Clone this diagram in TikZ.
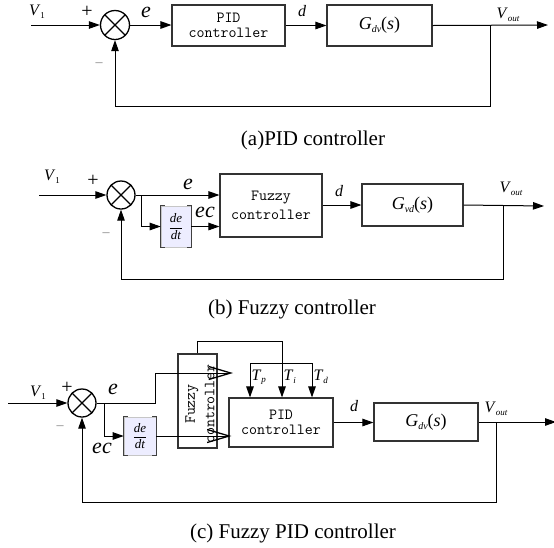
\documentclass[tikz,border=0pt]{standalone}
\usepackage{fontspec}
\setmainfont{Liberation Serif}
\usetikzlibrary{arrows.meta}
\newcommand{\fsz}[1]{\fontsize{#1}{#1}\selectfont}
\newcommand{\vsub}[2]{\textit{#1}\raisebox{-2.5pt}{\fsz{9}#2}}
\newcommand{\gsub}[2]{\textit{#1}\raisebox{-3pt}{\fsz{10}#2}}
\begin{document}
\begin{tikzpicture}[x=1pt,y=-1pt,line width=1pt,
  arr/.style={-{Triangle[length=11pt,width=7.5pt]}},
  chev/.style={-{Straight Barb[length=22pt,width=13pt,line width=1.3pt]}},
  blk/.style={draw=black!80,line width=1.1pt,inner sep=0pt,font=\ttfamily\fsz{15.5},align=center},
  sumj/.style={draw,circle,line width=1.3pt,minimum size=#1,inner sep=0pt,
    path picture={\draw[line width=1.3pt] (path picture bounding box.north west) -- (path picture bounding box.south east)
      (path picture bounding box.south west) -- (path picture bounding box.north east);}},
  ddbox/.style={fill=blue!7,draw=gray!45,line width=0.6pt,inner sep=0pt,font=\fsz{13}},
  brk/.style={draw=black!75,line width=1.3pt},
  lab/.style={inner sep=0pt,font=\fsz{16}},
  plus/.style={inner sep=0pt,font=\fsz{20}},
  big/.style={inner sep=0pt,font=\fsz{22}\itshape},
  captxt/.style={inner sep=0pt,font=\fsz{21}},
  minus/.style={inner sep=0pt,font=\fsz{14},text=black!50},
]
\useasboundingbox (0,0) rectangle (554,547);

% ---------------- (a) ----------------
\node[sumj=29pt] (s1) at (115,25) {};
\node[blk,minimum width=113pt,minimum height=41pt] (pid1) at (228.5,25.5) {PID\\[-1pt]controller};
\node[blk,minimum width=105pt,minimum height=41pt,font=\fsz{18}] (g1) at (379.5,25.5) {\gsub{G}{\textit{dv}}(\textit{s})};
\coordinate (in1) at (31,25);
\coordinate (br1) at (490,25);
\coordinate (fb1) at (490,106);
\coordinate (out1) at (548,25);
\draw[arr] (in1) -- (s1.west);
\draw[arr] (s1.east) -- (s1.east -| pid1.west);
\draw[arr] (pid1.east) -- (pid1.east -| g1.west);
\draw[arr] (g1.east) -- (out1);
\draw[arr] (br1) -- (fb1) -| (s1.south);
\node[lab] (v1a) at (37,12) {\vsub{V}{1}};
\node[plus] (pa) at (87,12) {+};
\node[minus] (ma) at (99,65) {--};
\node[big] (ea) at (146,12) {e};
\node[lab,font=\fsz{16}\itshape] (da) at (302,11) {d};
\node[lab] (voa) at (508,15) {\vsub{V}{\textit{out}}};
\node[captxt] (capa) at (313,140) {(a)PID controller};

% ---------------- (b) ----------------
\node[sumj=28pt] (s2) at (121,195) {};
\node[ddbox,minimum width=30pt,minimum height=41pt] (dd2) at (176,226.5) {$\displaystyle\frac{\textit{de}}{\textit{dt}}$};
\draw[brk] ([xshift=4pt]dd2.north west) -- (dd2.north west) -- (dd2.south west) -- ([xshift=4pt]dd2.south west);
\draw[brk] ([xshift=-4pt]dd2.north east) -- (dd2.north east) -- (dd2.south east) -- ([xshift=-4pt]dd2.south east);
\node[blk,minimum width=102pt,minimum height=63pt] (fz2) at (271,205.5) {Fuzzy\\[3pt]controller};
\node[blk,minimum width=101pt,minimum height=42pt,font=\fsz{18}] (g2) at (412.5,205) {\gsub{G}{\textit{vd}}(\textit{s})};
\coordinate (in2) at (39,195);
\coordinate (br2) at (141,195);
\coordinate (br2o) at (503,206);
\coordinate (fb2) at (503,279);
\coordinate (out2) at (544,206);
\draw[arr] (in2) -- (s2.west);
\draw[arr] (s2.east) -- (s2.east -| fz2.west);
\draw[arr] (br2) |- (dd2.west);
\draw[arr] (dd2.east) -- (dd2.east -| fz2.west);
\draw[arr] (fz2.east |- g2.west) -- (g2.west);
\draw[arr] (g2.east) -- (out2);
\draw[arr] (br2o) -- (fb2) -| (s2.south);
\node[lab] (v1b) at (52,177) {\vsub{V}{1}};
\node[plus] (pb) at (93,181) {+};
\node[minus] (mb) at (106,235) {--};
\node[big] (eb) at (188,184) {e};
\node[big] (ecb) at (205,212) {ec};
\node[lab,font=\fsz{16}\itshape] (db) at (339,191) {d};
\node[lab] (vob) at (511,189) {\vsub{V}{\textit{out}}};
\node[captxt] (capb) at (292,309) {(b) Fuzzy controller};

% ---------------- (c) ----------------
\node[sumj=28pt] (s3) at (82,403) {};
\node[ddbox,minimum width=32pt,minimum height=38pt] (dd3) at (140,436) {$\displaystyle\frac{\textit{de}}{\textit{dt}}$};
\draw[brk] ([xshift=4pt]dd3.north west) -- (dd3.north west) -- (dd3.south west) -- ([xshift=4pt]dd3.south west);
\draw[brk] ([xshift=-4pt]dd3.north east) -- (dd3.north east) -- (dd3.south east) -- ([xshift=-4pt]dd3.south east);
\node[blk,minimum width=39pt,minimum height=94pt] (fz3) at (197.5,401) {};
\node[inner sep=0pt,rotate=90,font=\ttfamily\fsz{15.5},align=center] (fz3t) at (200,404) {Fuzzy\\[4pt]controller};
\node[blk,minimum width=104pt,minimum height=49pt] (pid3) at (281,422.5) {PID\\[-1pt]controller};
\node[blk,minimum width=104pt,minimum height=38pt,font=\fsz{18}] (g3) at (426,422) {\gsub{G}{\textit{dv}}(\textit{s})};
\coordinate (in3) at (8,403);
\coordinate (br3) at (104,403);
\coordinate (up1) at (155,403);
\coordinate (up2) at (155,373);
\coordinate (tipe) at (233,373);
\coordinate (ti) at (282,341);
\coordinate (tpb) at (250,363);
\coordinate (tdb) at (312,363);
\coordinate (br3o) at (496,422);
\coordinate (fb3) at (496,502);
\coordinate (out3) at (556,422);
\draw[arr] (in3) -- (s3.west);
\draw[chev] (s3.east) -- (up1) -- (up2) -- (tipe);
\draw[arr] (br3) |- (dd3.west);
\draw[chev] (dd3.east) -- ([xshift=3pt]dd3.east -| pid3.west);
\draw[arr] (fz3.north) |- (ti) -- (ti |- pid3.north);
\draw (tpb) -- (tdb);
\draw[arr] (tpb) -- (tpb |- pid3.north);
\draw[arr] (tdb) -- (tdb |- pid3.north);
\draw[arr] (pid3.east) -- (pid3.east -| g3.west);
\draw[arr] (g3.east) -- (out3);
\draw[arr] (br3o) -- (fb3) -| (s3.south);
\node[lab] (v1c) at (38,393) {\vsub{V}{1}};
\node[plus] (pc) at (67,388) {+};
\node[minus] (mc) at (60,428) {--};
\node[big] (ec) at (113,389) {e};
\node[big] (ecc) at (102,448) {ec};
\node[lab,anchor=west] (tp) at (251,377) {\vsub{T}{\textit{p}}};
\node[lab,anchor=west] (tii) at (283,377) {\vsub{T}{\textit{i}}};
\node[lab,anchor=west] (td) at (313,377) {\vsub{T}{\textit{d}}};
\node[lab,font=\fsz{16}\itshape] (dc) at (354,406) {d};
\node[lab] (voc) at (496,409) {\vsub{V}{\textit{out}}};
\node[captxt] (capc) at (293,533) {(c) Fuzzy PID controller};
\end{tikzpicture}
\end{document}
